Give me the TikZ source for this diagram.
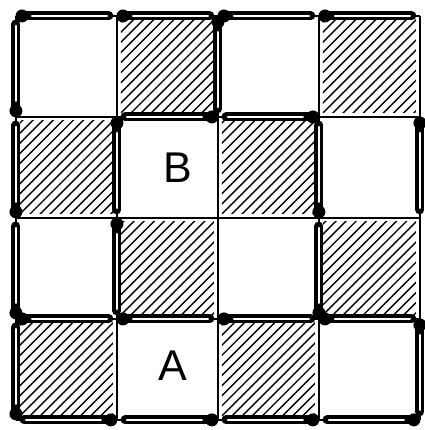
\documentclass[tikz,border=0pt]{standalone}
\usepackage{fontspec}
\setsansfont{Liberation Sans}
\usetikzlibrary{calc}
\newcommand{\matchstick}[2]{%
  \draw[stick] ($(#1)!0.06!(#2)$) -- ($(#1)!0.92!(#2)$);
  \draw[core] ($(#1)!0.16!(#2)$) -- ($(#1)!0.9!(#2)$);
  \fill ($(#1)!0.06!(#2)$) circle (6.5pt);
}
\begin{document}
\begin{tikzpicture}[
    x=101pt, y=-101pt,
    gridline/.style={line width=1.8pt},
    hatch/.style={line width=1.4pt},
    stick/.style={line width=9pt, line cap=round},
    core/.style={white, line width=2.8pt, line cap=round},
    letter/.style={font=\sffamily\fontsize{43}{43}\selectfont, inner sep=0pt},
  ]
    \useasboundingbox (-0.158,-0.158) rectangle (4.05,4.1);

    \foreach \i in {0,...,4}
      \foreach \j in {0,...,4}
        \coordinate (p\i\j) at (\i,\j);

    \foreach \c/\r in {1/0,3/0,0/1,2/1,1/2,3/2,0/3,2/3} {
      \begin{scope}
        \clip (\c+0.04,\r+0.04) rectangle (\c+0.96,\r+0.96);
        \foreach \k in {0,...,21}
          \draw[hatch] (\c+\k*0.1-1,\r+1) -- ++(1,-1);
      \end{scope}
    }
    \foreach \i in {0,...,4} {
      \draw[gridline] (p\i0) -- (p\i4);
      \draw[gridline] (p0\i) -- (p4\i);
    }

    \node[letter] (b) at (1.60,1.50) {B};
    \node[letter] (a) at (1.55,3.46) {A};

    \matchstick{p00}{p10}
    \matchstick{p10}{p20}
    \matchstick{p20}{p30}
    \matchstick{p30}{p40}

    \matchstick{p14}{p04}
    \matchstick{p24}{p14}
    \matchstick{p34}{p24}
    \matchstick{p44}{p34}

    \matchstick{p01}{p00}
    \matchstick{p02}{p01}
    \matchstick{p03}{p02}
    \matchstick{p04}{p03}

    \matchstick{p41}{p42}
    \matchstick{p43}{p44}

    \matchstick{p21}{p11}
    \matchstick{p31}{p21}

    \matchstick{p03}{p13}
    \matchstick{p13}{p23}
    \matchstick{p23}{p33}
    \matchstick{p33}{p43}

    \matchstick{p11}{p12}
    \matchstick{p12}{p13}
    \matchstick{p20}{p21}
    \matchstick{p32}{p31}
    \matchstick{p33}{p32}
  \end{tikzpicture}
\end{document}
